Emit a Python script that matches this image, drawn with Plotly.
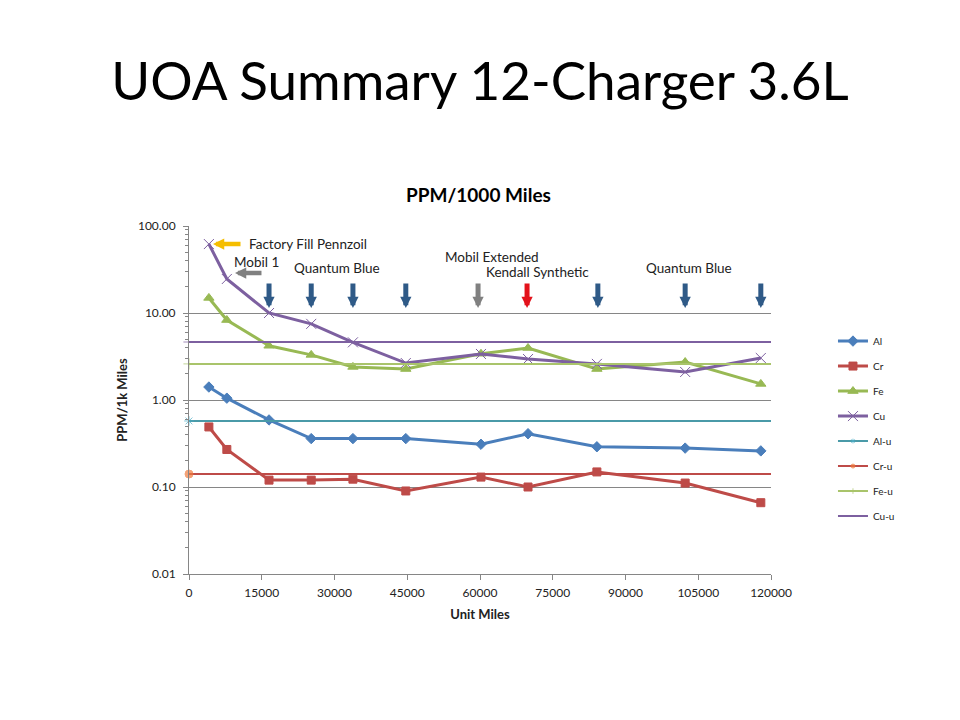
import plotly.graph_objects as go
import numpy as np

# ---- data ----
miles = [4100, 7800, 16500, 25200, 33800, 44700, 60200, 69900, 84100, 102300, 117900]
al = [1.41, 1.05, 0.59, 0.36, 0.36, 0.36, 0.31, 0.41, 0.29, 0.28, 0.26]
cr = [0.49, 0.27, 0.12, 0.12, 0.123, 0.09, 0.13, 0.10, 0.149, 0.111, 0.066]
fe = [14.9, 8.3, 4.2, 3.3, 2.4, 2.27, 3.4, 3.96, 2.27, 2.73, 1.53]
cu = [62.0, 24.6, 10.0, 7.5, 4.6, 2.66, 3.38, 2.96, 2.6, 2.1, 3.04]

univ_x = [0, 120000]
al_u = 0.574
cr_u = 0.141
fe_u = 2.6
cu_u = 4.64

# oil change arrows (mileage, colour)
oil_changes = [16500, 25200, 33800, 44700, 59600, 69700, 84300, 102300, 117900]
oil_colors = ["#2F5A87", "#2F5A87", "#2F5A87", "#2F5A87", "#808080", "#E3121B",
              "#2F5A87", "#2F5A87", "#2F5A87"]

labels = [
    ("Factory Fill Pennzoil", 12000, 62.0),
    ("Mobil 1", 8900, 38.5),
    ("Quantum Blue", 21300, 32.9),
    ("Mobil Extended", 52400, 44.0),
    ("Kendall Synthetic", 60900, 29.6),
    ("Quantum Blue", 93900, 32.9),
]

y_ticks = [0.01, 0.1, 1, 10, 100]
y_ticktext = ["0.01", "0.10", "1.00", "10.00", "100.00"]
x_ticks = [0, 15000, 30000, 45000, 60000, 75000, 90000, 105000, 120000]
minor_ticks = [m * 10.0 ** e for e in range(-2, 2) for m in range(2, 10)]

FONT = "Lato"
fig = go.Figure()

main = [
    ("Al", al, "#4A7EBB", "diamond", 8),
    ("Cr", cr, "#BE4B48", "square", 8),
    ("Fe", fe, "#98B954", "triangle-up", 9),
    ("Cu", cu, "#7D60A0", "x-thin-open", 10),
]
for name, vals, col, sym, sz in main:
    fig.add_trace(go.Scatter(
        x=miles, y=vals, name=name, mode="lines+markers",
        line=dict(color=col, width=3),
        marker=dict(symbol=sym, size=sz, color=col, line=dict(color=col, width=1)),
        cliponaxis=False, legendgroup=name,
    ))

univ = [
    ("Al-u", al_u, "#4A9AA8", "#4BACC6", "asterisk-open"),
    ("Cr-u", cr_u, "#BE4B48", "#F07C3E", "circle"),
    ("Fe-u", fe_u, "#A9C46B", "#A9C46B", "cross-thin-open"),
    ("Cu-u", cu_u, "#7D60A0", "#7D60A0", "line-ew-open"),
]
for name, v, lcol, mcol, sym in univ:
    fig.add_trace(go.Scatter(
        x=univ_x, y=[v, v], name=name, mode="lines+markers",
        line=dict(color=lcol, width=2),
        marker=dict(symbol=sym, size=[8, 0], color=mcol, line=dict(color=mcol, width=1)),
        cliponaxis=False, legendgroup=name,
    ))

# down arrows for oil changes
for xm, col in zip(oil_changes, oil_colors):
    fig.add_annotation(x=xm, y=np.log10(11.4), xref="x", yref="y", text="",
                       showarrow=True, ax=0, ay=-26, arrowhead=2, arrowwidth=5,
                       arrowsize=0.45, arrowcolor=col, standoff=0)

# left arrows
fig.add_annotation(x=4950, y=np.log10(62.0), xref="x", yref="y", text="",
                   showarrow=True, ax=29, ay=0, arrowhead=2, arrowwidth=4.5,
                   arrowsize=0.5, arrowcolor="#F5BE00", standoff=0)
fig.add_annotation(x=9480, y=np.log10(28.8), xref="x", yref="y", text="",
                   showarrow=True, ax=28, ay=0, arrowhead=2, arrowwidth=4.5,
                   arrowsize=0.5, arrowcolor="#808080", standoff=0)

for txt, xv, yv in labels:
    fig.add_annotation(x=xv, y=np.log10(yv), xref="x", yref="y", text=txt,
                       showarrow=False, xanchor="left", yanchor="middle",
                       font=dict(family=FONT, size=13.5, color="#222222"))

fig.update_layout(
    width=960, height=720,
    margin=dict(l=189, r=189, t=226, b=146),
    paper_bgcolor="white", plot_bgcolor="white",
    font=dict(family=FONT, color="#222222"),
    title=dict(text="UOA Summary 12-Charger 3.6L", x=0.5, xanchor="center",
               y=1 - 81 / 720, yanchor="middle", yref="container",
               font=dict(family=FONT, size=53, color="#000000")),
    showlegend=True,
    legend=dict(x=1.1065, xanchor="left", y=0.711, yanchor="top",
                font=dict(family=FONT, size=10, color="#222222"),
                tracegroupgap=6, bgcolor="rgba(0,0,0,0)"),
    xaxis=dict(range=[0, 120000], tickvals=x_ticks, ticktext=[str(t) for t in x_ticks],
               showgrid=False, zeroline=False, showline=True, linecolor="#868686",
               linewidth=1, ticks="outside", ticklen=5, tickcolor="#868686",
               ticklabelstandoff=3,
               tickfont=dict(family=FONT, size=12, color="#222222"),
               title=dict(text="<b>Unit Miles</b>", standoff=10,
                          font=dict(family=FONT, size=13, color="#222222"))),
    yaxis=dict(type="log", range=[-2, 2], tickvals=y_ticks, ticktext=y_ticktext,
               showgrid=True, gridcolor="#868686", gridwidth=1, zeroline=False,
               showline=True, linecolor="#868686", linewidth=1,
               ticks="outside", ticklen=5, tickcolor="#868686",
               ticklabelstandoff=5,
               minor=dict(tickvals=minor_ticks, ticks="outside", ticklen=3,
                          tickcolor="#868686", showgrid=False),
               tickfont=dict(family=FONT, size=12, color="#222222"),
               title=dict(text="<b>PPM/1k Miles</b>", standoff=7,
                          font=dict(family=FONT, size=13, color="#222222"))),
)

fig.add_annotation(text="<b>PPM/1000 Miles</b>", x=0.497, y=1 + (226 - 194) / 348,
                   xref="paper", yref="paper", showarrow=False, yanchor="middle",
                   font=dict(family=FONT, size=19, color="#000000"))

fig.write_html("out.html")
